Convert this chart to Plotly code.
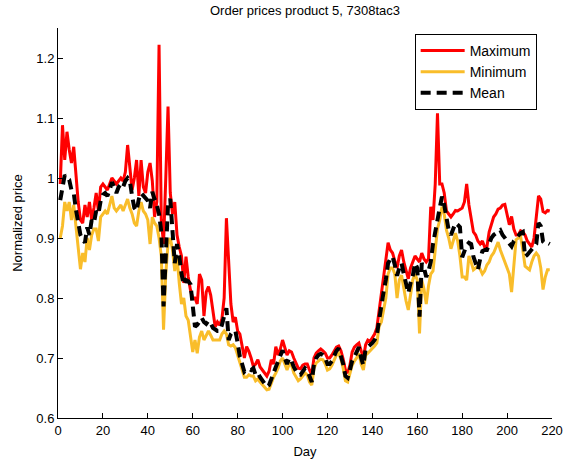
import plotly.graph_objects as go

days = list(range(1, 220))

mean_price = [
    0.963, 0.990, 1.005, 1.000, 0.997, 0.980, 0.975, 0.947, 0.925, 0.905,
    0.898, 0.892, 0.918, 0.905, 0.930, 0.925, 0.945, 0.940, 0.962, 0.972,
    0.975, 0.970, 0.980, 0.993, 0.985, 0.975, 0.985, 0.990, 0.985, 0.995,
    1.000, 0.995, 0.970, 0.950, 0.945, 0.965, 0.975, 0.970, 0.965, 0.962,
    0.950, 0.977, 0.965, 0.955, 0.940, 0.910, 0.786, 0.880, 0.955, 0.965,
    0.920, 0.858, 0.890, 0.870, 0.840, 0.822, 0.830, 0.828, 0.823, 0.790,
    0.752, 0.755, 0.762, 0.767, 0.760, 0.757, 0.762, 0.758, 0.750, 0.748,
    0.745, 0.745, 0.755, 0.770, 0.783, 0.730, 0.740, 0.745, 0.745, 0.725,
    0.702, 0.690, 0.677, 0.680, 0.682, 0.680, 0.683, 0.672, 0.675, 0.668,
    0.663, 0.658, 0.652, 0.655, 0.668, 0.675, 0.685, 0.694, 0.705, 0.713,
    0.700, 0.690, 0.700, 0.695, 0.685, 0.678, 0.672, 0.672, 0.678, 0.683,
    0.680, 0.668, 0.660, 0.690, 0.700, 0.705, 0.707, 0.705, 0.700, 0.690,
    0.690, 0.695, 0.705, 0.712, 0.716, 0.705, 0.690, 0.670, 0.667, 0.680,
    0.695, 0.702, 0.712, 0.718, 0.700, 0.688, 0.715, 0.718, 0.720, 0.725,
    0.730, 0.738, 0.763, 0.792, 0.810, 0.830, 0.858, 0.865, 0.869, 0.855,
    0.837, 0.850, 0.858, 0.840, 0.825, 0.808, 0.825, 0.837, 0.858, 0.850,
    0.769, 0.858, 0.850, 0.835, 0.845, 0.860, 0.890, 0.915, 0.930, 0.950,
    0.969, 0.955, 0.935, 0.913, 0.905, 0.915, 0.925, 0.922, 0.918, 0.868,
    0.880, 0.888, 0.892, 0.890, 0.869, 0.860, 0.847, 0.865, 0.878, 0.880,
    0.880, 0.890, 0.900, 0.905, 0.908, 0.910, 0.913, 0.905, 0.900, 0.895,
    0.890, 0.886, 0.895, 0.900, 0.905, 0.908, 0.910, 0.869, 0.872, 0.877,
    0.880, 0.885, 0.890, 0.925, 0.920, 0.894, 0.890, 0.892, 0.890,
]

max_price = [
    0.990, 1.088, 1.030, 1.077, 1.047, 1.025, 1.052, 1.000, 0.960, 0.930,
    0.925, 0.955, 0.935, 0.960, 0.930, 0.950, 0.975, 0.945, 0.985, 0.990,
    0.985, 0.980, 0.990, 1.000, 0.995, 0.990, 0.995, 1.000, 0.995, 1.010,
    1.055, 1.020, 0.980, 1.000, 1.030, 0.970, 1.030, 0.985, 0.975, 1.010,
    1.025, 0.995, 0.935, 0.960, 1.222, 0.930, 0.890, 1.000, 1.119, 0.975,
    0.940, 0.960, 0.905, 0.885, 0.870, 0.825, 0.869, 0.835, 0.813, 0.800,
    0.800, 0.790, 0.840, 0.830, 0.770, 0.810, 0.819, 0.805, 0.775, 0.752,
    0.760, 0.755, 0.765, 0.800, 0.933, 0.850, 0.790, 0.760, 0.768, 0.745,
    0.740, 0.720, 0.700, 0.719, 0.711, 0.700, 0.686, 0.690, 0.697, 0.685,
    0.680, 0.675, 0.670, 0.678, 0.697, 0.690, 0.719, 0.705, 0.715, 0.730,
    0.715, 0.705, 0.712, 0.710, 0.700, 0.690, 0.683, 0.682, 0.688, 0.690,
    0.690, 0.680, 0.672, 0.700, 0.708, 0.712, 0.715, 0.712, 0.708, 0.700,
    0.700, 0.705, 0.712, 0.718, 0.720, 0.712, 0.698, 0.680, 0.675, 0.688,
    0.710, 0.718, 0.722, 0.725, 0.712, 0.700, 0.722, 0.730, 0.728, 0.735,
    0.740, 0.750, 0.780, 0.810, 0.840, 0.870, 0.892, 0.880, 0.875, 0.862,
    0.850, 0.870, 0.880, 0.860, 0.845, 0.832, 0.850, 0.862, 0.870, 0.865,
    0.860, 0.875, 0.865, 0.860, 0.865, 0.952, 0.930, 0.990, 1.108, 0.990,
    0.990, 0.975, 0.945, 0.940, 0.935, 0.940, 0.946, 0.945, 0.948, 0.950,
    0.960, 0.990, 0.955, 0.930, 0.910, 0.905, 0.895, 0.890, 0.895, 0.885,
    0.885, 0.910, 0.925, 0.935, 0.940, 0.948, 0.950, 0.955, 0.956, 0.940,
    0.922, 0.936, 0.915, 0.905, 0.905, 0.912, 0.910, 0.905, 0.895, 0.890,
    0.885, 0.900, 0.940, 0.970, 0.965, 0.944, 0.942, 0.946, 0.945,
]

min_price = [
    0.900, 0.920, 0.960, 0.945, 0.960, 0.930, 0.955, 0.920, 0.880, 0.848,
    0.875, 0.860, 0.900, 0.880, 0.905, 0.915, 0.915, 0.895, 0.935, 0.940,
    0.945, 0.940, 0.955, 0.970, 0.950, 0.945, 0.950, 0.955, 0.945, 0.955,
    0.965, 0.950, 0.940, 0.925, 0.920, 0.945, 0.960, 0.945, 0.940, 0.930,
    0.890, 0.935, 0.925, 0.920, 0.900, 0.870, 0.747, 0.840, 0.890, 0.900,
    0.880, 0.845, 0.870, 0.825, 0.790, 0.800, 0.770, 0.763, 0.740, 0.710,
    0.730, 0.708, 0.735, 0.745, 0.730, 0.738, 0.745, 0.738, 0.730, 0.730,
    0.730, 0.730, 0.740, 0.745, 0.740, 0.722, 0.720, 0.722, 0.717, 0.705,
    0.690, 0.680, 0.668, 0.668, 0.672, 0.670, 0.670, 0.662, 0.665, 0.660,
    0.655, 0.650, 0.647, 0.648, 0.660, 0.668, 0.675, 0.683, 0.695, 0.700,
    0.690, 0.680, 0.690, 0.688, 0.675, 0.668, 0.662, 0.665, 0.670, 0.675,
    0.672, 0.660, 0.655, 0.682, 0.692, 0.695, 0.698, 0.697, 0.690, 0.680,
    0.682, 0.688, 0.698, 0.705, 0.708, 0.698, 0.683, 0.662, 0.660, 0.672,
    0.688, 0.695, 0.700, 0.708, 0.690, 0.680, 0.705, 0.708, 0.712, 0.715,
    0.720, 0.725, 0.753, 0.760, 0.780, 0.800, 0.840, 0.850, 0.850, 0.840,
    0.800, 0.830, 0.838, 0.815, 0.795, 0.780, 0.810, 0.830, 0.840, 0.830,
    0.741, 0.830, 0.815, 0.790, 0.820, 0.840, 0.845, 0.880, 0.915, 0.930,
    0.952, 0.940, 0.913, 0.900, 0.882, 0.895, 0.908, 0.895, 0.870, 0.835,
    0.835, 0.830, 0.870, 0.860, 0.847, 0.850, 0.853, 0.848, 0.840, 0.845,
    0.855, 0.860, 0.870, 0.875, 0.885, 0.893, 0.880, 0.870, 0.860, 0.853,
    0.840, 0.810, 0.860, 0.897, 0.900, 0.903, 0.880, 0.853, 0.850, 0.847,
    0.860, 0.870, 0.875, 0.870, 0.850, 0.814, 0.835, 0.847, 0.847,
]

x_ticks = [0, 20, 40, 60, 80, 100, 120, 140, 160, 180, 200, 220]
y_ticks = [0.6, 0.7, 0.8, 0.9, 1.0, 1.1, 1.2]
y_tick_labels = ["0.6", "0.7", "0.8", "0.9", "1", "1.1", "1.2"]

FONT = "Liberation Sans, Arial, Helvetica, sans-serif"

fig = go.Figure()
fig.add_trace(go.Scatter(x=days, y=max_price, mode="lines", name="Maximum",
                         line=dict(color="#ff0000", width=3)))
fig.add_trace(go.Scatter(x=days, y=min_price, mode="lines", name="Minimum",
                         line=dict(color="#f9bd2a", width=3)))
fig.add_trace(go.Scatter(x=days, y=mean_price, mode="lines", name="Mean",
                         line=dict(color="#000000", width=4, dash="10px,6px")))

fig.update_layout(
    width=566, height=462,
    margin=dict(l=58, r=14, t=28, b=44, autoexpand=False),
    paper_bgcolor="white", plot_bgcolor="white",
    font=dict(family=FONT, size=13, color="black"),
    title=dict(text="Order prices product 5, 7308tac3", x=0.5, xref="paper",
               y=1 - 10 / 462, yref="container", yanchor="middle",
               font=dict(size=13, family=FONT, color="black")),
    showlegend=True,
    legend=dict(x=0.722, y=0.985, xanchor="left", yanchor="top",
                bgcolor="white", bordercolor="black", borderwidth=1,
                font=dict(size=14, family=FONT), tracegroupgap=0,
                itemwidth=44),
)
fig.update_xaxes(range=[0, 220], tickmode="array", tickvals=x_ticks,
                 ticks="inside", ticklen=5, tickcolor="black",
                 showline=True, linecolor="black", linewidth=1,
                 showgrid=False, zeroline=False, mirror=False,
                 automargin=False,
                 title=dict(text="Day", standoff=10, font=dict(size=13)))
fig.update_yaxes(range=[0.6, 1.25], tickmode="array", tickvals=y_ticks,
                 ticktext=y_tick_labels,
                 ticks="inside", ticklen=5, tickcolor="black",
                 showline=True, linecolor="black", linewidth=1,
                 showgrid=False, zeroline=False, mirror=False,
                 automargin=False,
                 title=dict(text="Normalized price", standoff=10, font=dict(size=13)))

fig.write_html("out.html", config={"displayModeBar": False},
               post_script="document.body.style.margin='0';")
